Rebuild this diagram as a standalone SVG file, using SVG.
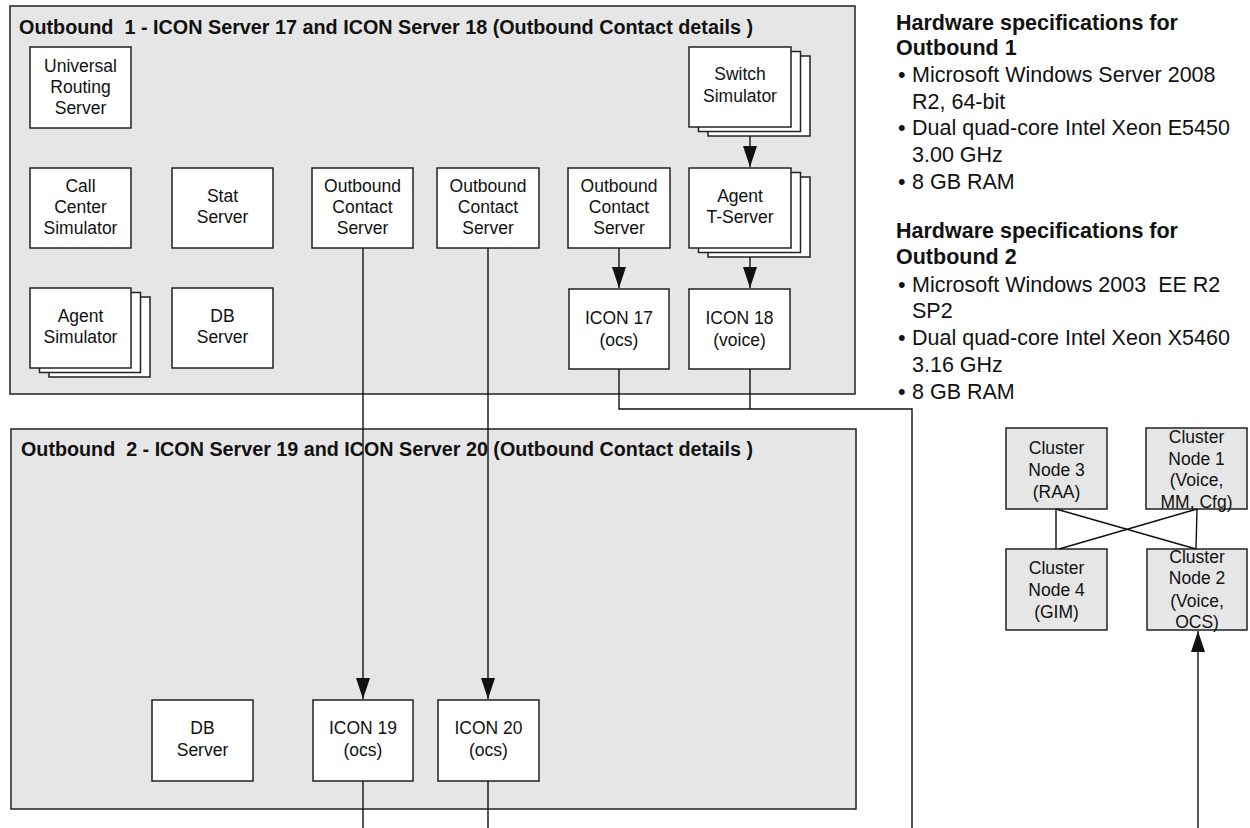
<svg xmlns="http://www.w3.org/2000/svg" width="1250" height="828" viewBox="0 0 1250 828">
<style>
.cont{fill:#e6e6e6;stroke:#222;stroke-width:1.5}
.box{fill:#fff;stroke:#222;stroke-width:1.5}
.gbox{fill:#e6e6e6;stroke:#222;stroke-width:1.5}
.t{font-family:"Liberation Sans",Arial,sans-serif;font-size:17.5px;fill:#111;text-anchor:middle}
.title{font-family:"Liberation Sans",Arial,sans-serif;font-size:19.5px;font-weight:bold;fill:#111;white-space:pre}
.hw{font-family:"Liberation Sans",Arial,sans-serif;font-size:21.5px;fill:#111;white-space:pre}
.hwb{font-family:"Liberation Sans",Arial,sans-serif;font-size:21.5px;font-weight:bold;fill:#111}
.ln{fill:none;stroke:#111;stroke-width:1.4}
</style>
<defs>
<marker id="arr" markerUnits="userSpaceOnUse" markerWidth="21" markerHeight="14" refX="21" refY="7" orient="auto" viewBox="0 0 21 14">
<path d="M0,0 L21,7 L0,14 Z" fill="#111"/>
</marker>
</defs>
<rect width="1250" height="828" fill="#fff"/>

<g id="outbound1">
<rect class="cont" x="10" y="6" width="845" height="388"/>
<text class="title" x="19" y="34" textLength="734" lengthAdjust="spacingAndGlyphs">Outbound  1 - ICON Server 17 and ICON Server 18 (Outbound Contact details )</text>
</g>
<g id="outbound2">
<rect class="cont" x="11" y="429" width="845" height="380"/>
<text class="title" x="21" y="456" textLength="732" lengthAdjust="spacingAndGlyphs">Outbound  2 - ICON Server 19 and ICON Server 20 (Outbound Contact details )</text>
</g>

<g id="urs"><rect class="box" x="30" y="47" width="101" height="81"/>
<text class="t" x="80.5" y="72">Universal</text><text class="t" x="80.5" y="93">Routing</text><text class="t" x="80.5" y="114">Server</text></g>
<g id="ccsim"><rect class="box" x="30" y="168" width="101" height="80"/>
<text class="t" x="80.5" y="192">Call</text><text class="t" x="80.5" y="213">Center</text><text class="t" x="80.5" y="234">Simulator</text></g>
<g id="stat"><rect class="box" x="172" y="168" width="101" height="80"/>
<text class="t" x="222.5" y="202">Stat</text><text class="t" x="222.5" y="223">Server</text></g>
<g id="ocs1"><rect class="box" x="312" y="168" width="101" height="80"/>
<text class="t" x="362.5" y="192">Outbound</text><text class="t" x="362.5" y="213">Contact</text><text class="t" x="362.5" y="234">Server</text></g>
<g id="ocs2"><rect class="box" x="437" y="168" width="102" height="80"/>
<text class="t" x="488" y="192">Outbound</text><text class="t" x="488" y="213">Contact</text><text class="t" x="488" y="234">Server</text></g>
<g id="ocs3"><rect class="box" x="568" y="168" width="102" height="80"/>
<text class="t" x="619" y="192">Outbound</text><text class="t" x="619" y="213">Contact</text><text class="t" x="619" y="234">Server</text></g>
<g id="agentsim">
<rect class="box" x="49" y="297" width="101" height="80"/>
<rect class="box" x="39.5" y="292.5" width="101" height="80"/>
<rect class="box" x="30" y="288" width="101" height="80"/>
<text class="t" x="80.5" y="322">Agent</text><text class="t" x="80.5" y="343">Simulator</text></g>
<g id="db1"><rect class="box" x="172" y="288" width="101" height="80"/>
<text class="t" x="222.5" y="322">DB</text><text class="t" x="222.5" y="343">Server</text></g>
<g id="switchsim">
<rect class="box" x="708" y="56" width="102" height="80"/>
<rect class="box" x="698.5" y="51.5" width="102" height="80"/>
<rect class="box" x="689" y="47" width="102" height="80"/>
<text class="t" x="740" y="80">Switch</text><text class="t" x="740" y="102">Simulator</text></g>
<g id="agentts">
<rect class="box" x="708" y="177" width="102" height="80"/>
<rect class="box" x="698.5" y="172.5" width="102" height="80"/>
<rect class="box" x="689" y="168" width="102" height="80"/>
<text class="t" x="740" y="202">Agent</text><text class="t" x="740" y="223">T-Server</text></g>
<g id="icon17"><rect class="box" x="569" y="289" width="100" height="80"/>
<text class="t" x="619" y="324">ICON 17</text><text class="t" x="619" y="346">(ocs)</text></g>
<g id="icon18"><rect class="box" x="689" y="289" width="101" height="80"/>
<text class="t" x="739.5" y="324">ICON 18</text><text class="t" x="739.5" y="346">(voice)</text></g>

<g id="db2"><rect class="box" x="152" y="700" width="101" height="81"/>
<text class="t" x="202.5" y="734">DB</text><text class="t" x="202.5" y="756">Server</text></g>
<g id="icon19"><rect class="box" x="313" y="700" width="100" height="81"/>
<text class="t" x="363" y="734">ICON 19</text><text class="t" x="363" y="756">(ocs)</text></g>
<g id="icon20"><rect class="box" x="438" y="700" width="101" height="81"/>
<text class="t" x="488.5" y="734">ICON 20</text><text class="t" x="488.5" y="756">(ocs)</text></g>

<g id="node3"><rect class="gbox" x="1006" y="428" width="101" height="81"/>
<text class="t" x="1056.5" y="454">Cluster</text><text class="t" x="1056.5" y="476">Node 3</text><text class="t" x="1056.5" y="498">(RAA)</text></g>
<g id="node1"><rect class="gbox" x="1146" y="428" width="101" height="81"/>
<text class="t" x="1196.5" y="443">Cluster</text><text class="t" x="1196.5" y="464.5">Node 1</text><text class="t" x="1196.5" y="486">(Voice,</text><text class="t" x="1196.5" y="507.5">MM, Cfg)</text></g>
<g id="node4"><rect class="gbox" x="1006" y="549" width="101" height="81"/>
<text class="t" x="1056.5" y="574">Cluster</text><text class="t" x="1056.5" y="596">Node 4</text><text class="t" x="1056.5" y="618">(GIM)</text></g>
<g id="node2"><rect class="gbox" x="1147" y="549" width="100" height="81"/>
<text class="t" x="1197" y="563">Cluster</text><text class="t" x="1197" y="584">Node 2</text><text class="t" x="1197" y="607">(Voice,</text><text class="t" x="1197" y="628">OCS)</text></g>

<g id="connectors">
<line class="ln" x1="750" y1="136" x2="750" y2="167" marker-end="url(#arr)"/>
<line class="ln" x1="750" y1="257" x2="750" y2="288" marker-end="url(#arr)"/>
<line class="ln" x1="619" y1="248" x2="619" y2="288" marker-end="url(#arr)"/>
<line class="ln" x1="363" y1="248" x2="363" y2="699" marker-end="url(#arr)"/>
<line class="ln" x1="488" y1="248" x2="488" y2="699" marker-end="url(#arr)"/>
<polyline class="ln" points="619,369 619,409 912,409 912,828"/>
<line class="ln" x1="750" y1="369" x2="750" y2="409"/>
<line class="ln" x1="363" y1="781" x2="363" y2="828"/>
<line class="ln" x1="488" y1="781" x2="488" y2="828"/>
<line class="ln" x1="1056" y1="509" x2="1056" y2="549"/>
<line class="ln" x1="1197" y1="509" x2="1196" y2="549"/>
<line class="ln" x1="1056" y1="509" x2="1196" y2="549"/>
<line class="ln" x1="1197" y1="509" x2="1059" y2="549"/>
<line class="ln" x1="1198" y1="828" x2="1198" y2="631" marker-end="url(#arr)"/>
</g>

<g id="hardware">
<text class="hwb" x="896" y="30">Hardware specifications for</text>
<text class="hwb" x="896" y="55">Outbound 1</text>
<text class="hw" x="898" y="82">•</text><text class="hw" x="912" y="82">Microsoft Windows Server 2008</text>
<text class="hw" x="912" y="109">R2, 64-bit</text>
<text class="hw" x="898" y="135">•</text><text class="hw" x="912" y="135">Dual quad-core Intel Xeon E5450</text>
<text class="hw" x="912" y="162">3.00 GHz</text>
<text class="hw" x="898" y="189">•</text><text class="hw" x="912" y="189">8 GB RAM</text>
<text class="hwb" x="896" y="238">Hardware specifications for</text>
<text class="hwb" x="896" y="264">Outbound 2</text>
<text class="hw" x="898" y="292">•</text><text class="hw" x="912" y="292">Microsoft Windows 2003  EE R2</text>
<text class="hw" x="912" y="318">SP2</text>
<text class="hw" x="898" y="345">•</text><text class="hw" x="912" y="345">Dual quad-core Intel Xeon X5460</text>
<text class="hw" x="912" y="372">3.16 GHz</text>
<text class="hw" x="898" y="399">•</text><text class="hw" x="912" y="399">8 GB RAM</text>
</g>
</svg>
